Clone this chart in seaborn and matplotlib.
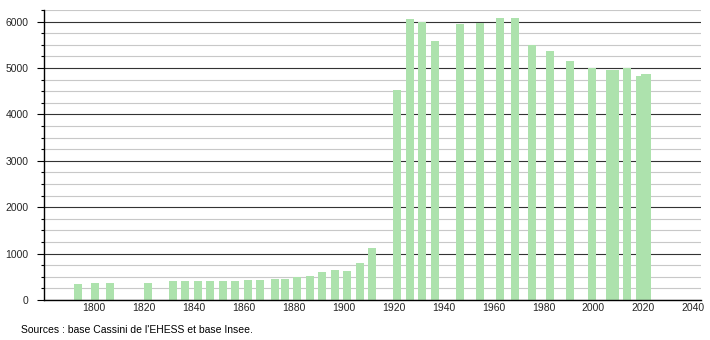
import matplotlib
matplotlib.use("Agg")
import matplotlib.pyplot as plt
import seaborn as sns
import pandas as pd
from matplotlib.ticker import MultipleLocator

years = [1793, 1800, 1806, 1821, 1831, 1836, 1841, 1846, 1851, 1856, 1861, 1866,
         1872, 1876, 1881, 1886, 1891, 1896, 1901, 1906, 1911, 1921, 1926, 1931,
         1936, 1946, 1954, 1962, 1968, 1975, 1982, 1990, 1999, 2006, 2007, 2008,
         2013, 2018, 2019, 2020, 2021]
population = [352, 374, 374, 374, 417, 417, 417, 417, 417, 417, 439, 439,
              460, 460, 503, 525, 611, 654, 632, 799, 1129, 4518, 6065, 5993,
              5576, 5943, 5964, 6087, 6087, 5496, 5374, 5159, 5000, 4957, 4957, 4957,
              5000, 4835, 4835, 4878, 4878]
x_ticks = [1800, 1820, 1840, 1860, 1880, 1900, 1920, 1940, 1960, 1980, 2000, 2020, 2040]
y_ticks = [0, 1000, 2000, 3000, 4000, 5000, 6000]
source_text = "Sources : base Cassini de l'EHESS et base Insee."

sns.set_theme(style="white")
plt.rcParams['font.family'] = ['Liberation Sans', 'DejaVu Sans']

df = pd.DataFrame({"year": [y + 0.5 for y in years], "pop": population})

fig = plt.figure(figsize=(7.1, 3.4), dpi=100)
ax = fig.add_axes([0.062, 0.1176, 0.925, 0.853])

ax.set_xlim(1780, 2043)
ax.set_ylim(0, 6250)

ax.yaxis.set_minor_locator(MultipleLocator(250))
ax.set_yticks(y_ticks)
ax.set_xticks(x_ticks)
ax.grid(False)
ax.grid(which="minor", axis="y", color="#c8c8c8", linewidth=0.8, zorder=0)
ax.grid(which="major", axis="y", color="#333333", linewidth=0.8, zorder=0)
ax.set_axisbelow(True)

sns.barplot(data=df, x="year", y="pop", native_scale=True, width=3.2,
            color="#ade2ad", saturation=1, edgecolor="none", linewidth=0, ax=ax)

for s in ["top", "right"]:
    ax.spines[s].set_visible(False)
for s in ["left", "bottom"]:
    ax.spines[s].set_color("black")
    ax.spines[s].set_linewidth(1.0)

ax.tick_params(axis="y", which="major", left=True, length=5, width=0.8, color="black",
               labelsize=7.5, pad=6)
ax.tick_params(axis="y", which="minor", left=True, length=2.5, width=0.8, color="black")
ax.tick_params(axis="x", which="both", bottom=False, length=0, labelsize=7.5, pad=2)
ax.set_xticklabels([str(t) for t in x_ticks])
ax.set_xlabel("")
ax.set_ylabel("")

fig.text(0.029, 0.022, source_text, fontsize=7.5, color="black", ha="left", va="baseline")

fig.savefig("out.png", dpi=100)
